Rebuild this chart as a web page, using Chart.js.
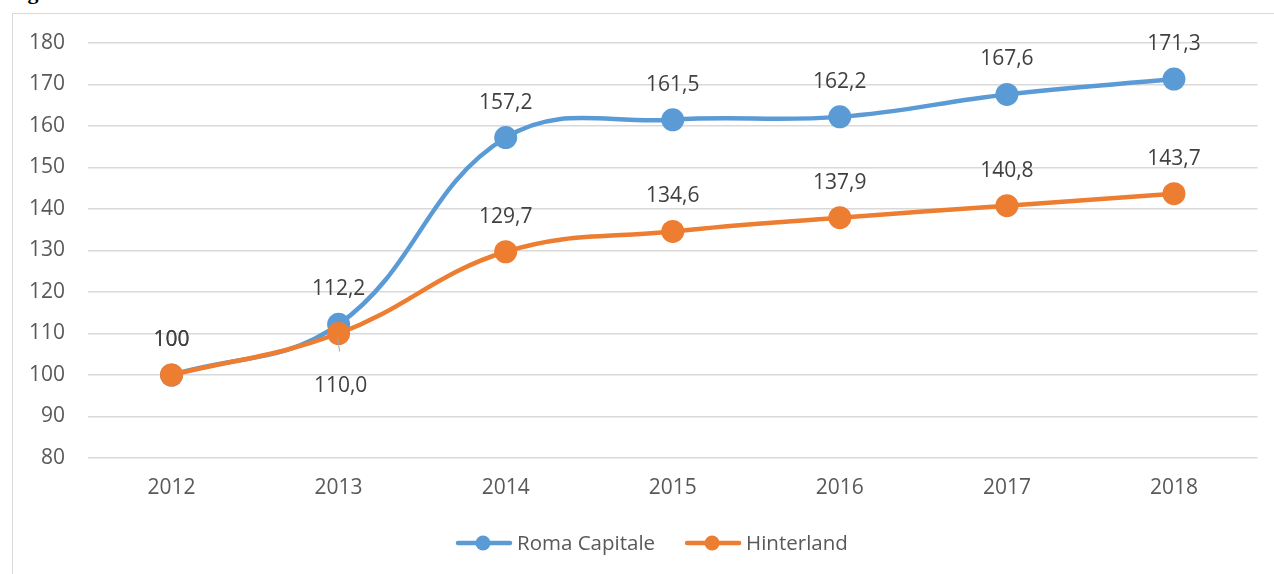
<!DOCTYPE html>
<html lang="it">
<head>
    <meta charset="UTF-8">
    <title>Roma Capitale vs Hinterland</title>
    <script src="https://cdn.jsdelivr.net/npm/chart.js"></script>
    <style>
        html, body {
            margin: 0;
            padding: 0;
            background: #fff;
            overflow: hidden;
        }
        .wrap {
            position: relative;
            width: 1274px;
            height: 574px;
        }
        .frame {
            position: absolute;
            left: 12px;
            top: 13px;
            width: 1300px;
            height: 600px;
            border: 1.5px solid #d9d9d9;
        }
        .cut-title {
            position: absolute;
            left: 8px;
            top: -21px;
            font-family: "Liberation Serif", serif;
            font-weight: bold;
            font-size: 22px;
            color: #000;
        }
        canvas {
            position: absolute;
            left: 0;
            top: 0;
        }
    </style>
</head>
<body>
<div class="wrap">
    <div class="frame"></div>
    <div class="cut-title">Fig</div>
    <canvas id="chart" width="1274" height="574"></canvas>
</div>

<script>
    // dati
    const years = ['2012', '2013', '2014', '2015', '2016', '2017', '2018'];
    const romaCapitale = [100, 112.2, 157.2, 161.5, 162.2, 167.6, 171.3];
    const hinterland = [100, 110.0, 129.7, 134.6, 137.9, 140.8, 143.7];
    const yMin = 80, yMax = 180, yStep = 10;

    const BLUE = '#5B9BD5';
    const ORANGE = '#ED7D31';
    const FONT = '"Open Sans", sans-serif';

    function fmt(v) {
        if (v === 100) return '100';
        return v.toFixed(1).replace('.', ',');
    }

    // etichette dati + legenda disegnate a mano
    const labelsPlugin = {
        id: 'excelLabels',
        afterDatasetsDraw(chart) {
            const ctx = chart.ctx;
            ctx.save();
            ctx.font = '21px ' + FONT;
            ctx.fillStyle = '#404040';
            ctx.textAlign = 'center';
            ctx.textBaseline = 'alphabetic';
            chart.data.datasets.forEach((ds, di) => {
                const meta = chart.getDatasetMeta(di);
                meta.data.forEach((pt, i) => {
                    const below = ds.labelBelow && ds.labelBelow[i];
                    if (below) {
                        ctx.strokeStyle = '#a6a6a6';
                        ctx.lineWidth = 1;
                        ctx.beginPath();
                        ctx.moveTo(pt.x - 1, pt.y + 4);
                        ctx.lineTo(pt.x + 1, pt.y + 18);
                        ctx.stroke();
                        ctx.fillText(fmt(ds.data[i]), pt.x + 2, pt.y + 58);
                    } else {
                        ctx.fillText(fmt(ds.data[i]), pt.x, pt.y - 29);
                    }
                });
            });

            // legenda
            let x = 456;
            const y = 543;
            ctx.font = '20.5px ' + FONT;
            chart.data.datasets.slice().sort((a, b) => b.order - a.order).forEach(ds => {
                ctx.strokeStyle = ds.borderColor;
                ctx.lineWidth = 4.5;
                ctx.lineCap = 'round';
                ctx.beginPath();
                ctx.moveTo(x + 2, y);
                ctx.lineTo(x + 54, y);
                ctx.stroke();
                ctx.fillStyle = ds.borderColor;
                ctx.beginPath();
                ctx.arc(x + 27, y, 7.5, 0, Math.PI * 2);
                ctx.fill();
                ctx.fillStyle = '#595959';
                ctx.textAlign = 'left';
                ctx.fillText(ds.label, x + 61, y + 7);
                x += 61 + ctx.measureText(ds.label).width + 30;
            });
            ctx.restore();
        }
    };

    const ctx = document.getElementById('chart').getContext('2d');
    new Chart(ctx, {
        type: 'line',
        data: {
            labels: years,
            datasets: [
                {
                    label: 'Roma Capitale',
                    data: romaCapitale,
                    borderColor: BLUE,
                    backgroundColor: BLUE,
                    borderWidth: 4.5,
                    pointRadius: 11.5,
                    pointBorderWidth: 0,
                    tension: 0.4,
                    order: 2
                },
                {
                    label: 'Hinterland',
                    data: hinterland,
                    borderColor: ORANGE,
                    backgroundColor: ORANGE,
                    borderWidth: 4.5,
                    pointRadius: 11.5,
                    pointBorderWidth: 0,
                    tension: 0.4,
                    order: 1,
                    labelBelow: [false, true, false, false, false, false, false]
                }
            ]
        },
        options: {
            responsive: false,
            animation: false,
            layout: {
                padding: { top: 43, right: 16.5, left: 0, bottom: 0 }
            },
            plugins: {
                legend: { display: false },
                tooltip: { enabled: false }
            },
            scales: {
                x: {
                    offset: true,
                    grid: { display: false, drawTicks: false },
                    border: { display: false },
                    ticks: {
                        color: '#595959',
                        font: { family: FONT, size: 21 },
                        padding: 17
                    },
                    afterFit(scale) { scale.height = 116; }
                },
                y: {
                    min: yMin,
                    max: yMax,
                    grid: { color: '#d9d9d9', lineWidth: 1.5, drawTicks: false },
                    border: { display: false },
                    ticks: {
                        stepSize: yStep,
                        color: '#595959',
                        font: { family: FONT, size: 21 },
                        padding: 23
                    },
                    afterFit(scale) { scale.width = 88; }
                }
            }
        },
        plugins: [labelsPlugin]
    });
</script>
</body>
</html>
